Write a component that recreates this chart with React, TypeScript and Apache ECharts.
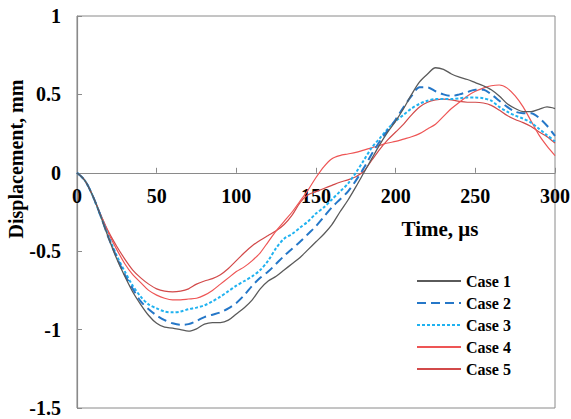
import React, { useEffect, useRef } from "react";
import * as echarts from "echarts";

const times = [0,5,10,15,20,25,30,35,40,45,50,55,60,65,70,75,80,85,90,95,100,105,110,115,120,125,130,135,140,145,150,155,160,165,170,175,180,185,190,195,200,205,210,215,220,225,230,235,240,245,250,255,260,265,270,275,280,285,290,295,300];

const case1 = [0,-0.05,-0.15,-0.28,-0.42,-0.55,-0.66,-0.76,-0.84,-0.91,-0.96,-0.985,-0.99,-1.0,-1.01,-0.995,-0.965,-0.955,-0.955,-0.94,-0.9,-0.86,-0.81,-0.74,-0.69,-0.66,-0.62,-0.58,-0.54,-0.49,-0.44,-0.39,-0.33,-0.25,-0.175,-0.09,0.0,0.09,0.18,0.26,0.33,0.41,0.5,0.58,0.63,0.67,0.66,0.63,0.61,0.595,0.575,0.555,0.53,0.49,0.44,0.41,0.39,0.39,0.405,0.42,0.41];

const case2 = [0,-0.05,-0.15,-0.28,-0.42,-0.54,-0.65,-0.74,-0.82,-0.87,-0.91,-0.94,-0.96,-0.97,-0.965,-0.945,-0.92,-0.905,-0.89,-0.865,-0.83,-0.78,-0.72,-0.67,-0.63,-0.58,-0.53,-0.485,-0.44,-0.39,-0.34,-0.28,-0.22,-0.17,-0.12,-0.05,0.03,0.12,0.2,0.27,0.34,0.42,0.49,0.545,0.545,0.52,0.5,0.49,0.5,0.515,0.53,0.53,0.5,0.46,0.42,0.39,0.38,0.38,0.35,0.3,0.235];

const case3 = [0,-0.05,-0.15,-0.28,-0.41,-0.53,-0.63,-0.72,-0.79,-0.84,-0.865,-0.885,-0.89,-0.885,-0.87,-0.86,-0.845,-0.82,-0.79,-0.755,-0.72,-0.69,-0.66,-0.62,-0.56,-0.48,-0.42,-0.39,-0.35,-0.31,-0.26,-0.22,-0.17,-0.12,-0.07,0.0,0.08,0.16,0.22,0.28,0.33,0.37,0.41,0.44,0.46,0.47,0.47,0.47,0.475,0.48,0.48,0.475,0.46,0.42,0.39,0.365,0.345,0.32,0.28,0.24,0.2];

const case4 = [0,-0.05,-0.15,-0.27,-0.39,-0.49,-0.58,-0.65,-0.7,-0.75,-0.78,-0.8,-0.81,-0.81,-0.805,-0.8,-0.78,-0.75,-0.71,-0.67,-0.63,-0.6,-0.56,-0.51,-0.44,-0.37,-0.31,-0.25,-0.18,-0.11,-0.03,0.04,0.09,0.11,0.12,0.13,0.145,0.16,0.175,0.19,0.2,0.215,0.23,0.25,0.28,0.31,0.36,0.41,0.45,0.49,0.52,0.54,0.555,0.56,0.54,0.49,0.42,0.33,0.24,0.17,0.11];

const case5 = [0,-0.05,-0.15,-0.27,-0.38,-0.47,-0.55,-0.62,-0.67,-0.71,-0.74,-0.755,-0.76,-0.755,-0.74,-0.71,-0.69,-0.675,-0.65,-0.61,-0.56,-0.51,-0.465,-0.43,-0.4,-0.37,-0.33,-0.27,-0.19,-0.14,-0.12,-0.1,-0.08,-0.06,-0.045,-0.025,0.01,0.08,0.15,0.21,0.26,0.31,0.37,0.42,0.45,0.465,0.47,0.465,0.455,0.45,0.45,0.445,0.43,0.4,0.365,0.34,0.32,0.295,0.26,0.23,0.19];

const seriesNames = ["Case 1", "Case 2", "Case 3", "Case 4", "Case 5"];
const yTicks = { min: -1.5, max: 1, interval: 0.5 };
const xTicks = { min: 0, max: 300, interval: 50 };

const FONT = "'Liberation Serif', 'Times New Roman', serif";
const AXIS_COLOR = "#8a8a8a";
const GRID = { left: 77, top: 16, right: 16, bottom: 11 };
const CHART_H = 419;

export default function App() {
  const ref = useRef<HTMLDivElement>(null);
  useEffect(() => {
    if (!ref.current) return;
    const chart = echarts.init(ref.current, undefined, { renderer: "svg" });
    const values = [case1, case2, case3, case4, case5];
    const styles = [
      { color: "#5a5a5a", width: 1.3, type: "solid" as any },
      { color: "#2577C8", width: 2, type: [9, 5] as any },
      { color: "#20B2F0", width: 2, type: [3, 2] as any },
      { color: "#EE5555", width: 1.2, type: "solid" as any },
      { color: "#D24A4A", width: 1.2, type: "solid" as any },
    ];
    // distance from the grid bottom to the value 0 on the y axis
    const plotH = CHART_H - GRID.top - GRID.bottom;
    const zeroOffset = (plotH * (0 - yTicks.min)) / (yTicks.max - yTicks.min);
    chart.setOption({
      animation: false,
      grid: {
        ...GRID,
        show: true,
        borderColor: AXIS_COLOR,
        borderWidth: 1,
        containLabel: false,
        outerBoundsMode: "none",
      },
      legend: {
        orient: "vertical",
        left: 411,
        top: 268,
        itemWidth: 44,
        itemHeight: 14,
        itemGap: 6,
        data: seriesNames,
        itemStyle: { opacity: 0 },
        textStyle: {
          fontFamily: FONT,
          fontWeight: "bold",
          fontSize: 16,
          color: "#000",
        },
      },
      xAxis: {
        type: "value",
        position: "bottom",
        offset: -zeroOffset,
        min: xTicks.min,
        max: xTicks.max,
        interval: xTicks.interval,
        axisLine: { show: true, onZero: false, lineStyle: { color: AXIS_COLOR, width: 1.2 } },
        axisTick: { inside: true, length: 5, lineStyle: { color: AXIS_COLOR } },
        splitLine: { show: false },
        axisLabel: {
          margin: 13,
          fontFamily: FONT,
          fontWeight: "bold",
          fontSize: 20,
          color: "#000",
        },
      },
      yAxis: {
        type: "value",
        min: yTicks.min,
        max: yTicks.max,
        interval: yTicks.interval,
        axisLine: { show: true, onZero: false, lineStyle: { color: AXIS_COLOR, width: 1.2 } },
        axisTick: { show: true, inside: true, length: 5, lineStyle: { color: AXIS_COLOR } },
        splitLine: { show: false },
        axisLabel: {
          margin: 16,
          fontFamily: FONT,
          fontWeight: "bold",
          fontSize: 20,
          lineHeight: 14,
          color: "#000",
        },
      },
      graphic: [
        {
          type: "text",
          x: 16,
          y: 159,
          rotation: Math.PI / 2,
          style: {
            text: "Displacement, mm",
            fontFamily: FONT,
            fontWeight: "bold",
            fontSize: 20,
            fill: "#000",
            textAlign: "center",
            textVerticalAlign: "middle",
          },
        },
        {
          type: "text",
          x: 440,
          y: 229,
          style: {
            text: "Time, μs",
            fontFamily: FONT,
            fontWeight: "bold",
            fontSize: 21,
            fill: "#000",
            textAlign: "center",
            textVerticalAlign: "middle",
          },
        },
      ],
      series: seriesNames.map((name, i) => ({
        name,
        type: "line",
        symbol: "none",
        smooth: 0.3,
        data: times.map((t, k) => [t, values[i][k]]),
        lineStyle: styles[i],
        itemStyle: { color: styles[i].color },
        z: 5 - i,
      })),
    });
    return () => chart.dispose();
  }, []);
  return <div ref={ref} style={{ width: 571, height: CHART_H, position: "absolute", left: 0, top: 0 }} />;
}
